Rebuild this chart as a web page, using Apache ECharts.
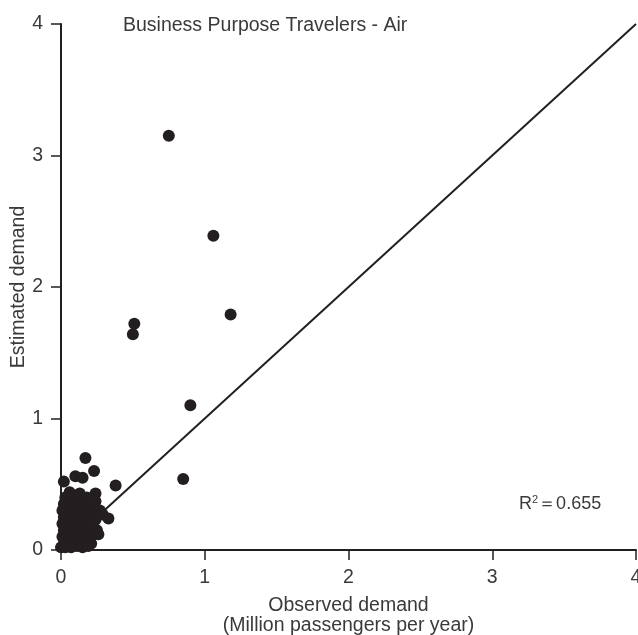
<!DOCTYPE html>
<html>
<head>
<meta charset="utf-8">
<script src="https://cdn.jsdelivr.net/npm/echarts@6/dist/echarts.min.js"></script>
<style>html,body{margin:0;padding:0;background:#fff}#c{width:638px;height:635px}</style>
</head>
<body>
<div id="c"></div>
<script>
// Observed demand (x) and estimated demand (y), million passengers per year
const observed = [
  0.75, 1.06, 1.18, 0.51, 0.50, 0.90, 0.85, 0.38, 0.17, 0.23, 0.10, 0.15, 0.02, 0.33, 0.25,
  0.06, 0.13, 0.24, 0.03, 0.09, 0.18,
  0.02, 0.06, 0.11, 0.16, 0.21, 0.24,
  0.01, 0.05, 0.09, 0.13, 0.18, 0.22, 0.27,
  0.02, 0.06, 0.10, 0.14, 0.19, 0.24, 0.29,
  0.01, 0.04, 0.08, 0.12, 0.16, 0.20,
  0.02, 0.06, 0.10, 0.14, 0.18, 0.22,
  0.01, 0.04, 0.08, 0.12, 0.16, 0.21, 0.26,
  0.02, 0.05, 0.09, 0.13, 0.17, 0.21,
  0.00, 0.03, 0.07, 0.11, 0.15, 0.19
];
const estimated = [
  3.15, 2.39, 1.79, 1.72, 1.64, 1.10, 0.54, 0.49, 0.70, 0.60, 0.56, 0.55, 0.52, 0.24, 0.15,
  0.44, 0.43, 0.43, 0.40, 0.41, 0.40,
  0.35, 0.36, 0.37, 0.35, 0.34, 0.37,
  0.30, 0.31, 0.32, 0.30, 0.31, 0.29, 0.30,
  0.25, 0.26, 0.24, 0.25, 0.26, 0.23, 0.27,
  0.20, 0.19, 0.21, 0.20, 0.19, 0.21,
  0.15, 0.14, 0.16, 0.15, 0.13, 0.16,
  0.10, 0.09, 0.11, 0.10, 0.08, 0.10, 0.12,
  0.05, 0.04, 0.06, 0.05, 0.04, 0.05,
  0.02, 0.02, 0.02, 0.03, 0.02, 0.03
];
const refLineX = [0, 4];
const refLineY = [0, 4];
const axisTicks = [0, 1, 2, 3, 4];
const titleText = 'Business Purpose Travelers - Air';
const xName = 'Observed demand\n(Million passengers per year)';
const yName = 'Estimated demand';
const r2Value = '0.655';

const ink = '#231f20';
const txt = '#3a3a3a';
const font = 'Liberation Sans';
const fs = 19.5;

const chart = echarts.init(document.getElementById('c'), null, {renderer: 'canvas'});
const axisCommon = {
  type: 'value', min: axisTicks[0], max: axisTicks[axisTicks.length - 1], interval: 1,
  splitLine: {show: false},
  axisLine: {show: true, lineStyle: {color: ink, width: 2}},
  axisTick: {show: true, inside: false, length: 10, lineStyle: {color: ink, width: 1.5}},
  axisLabel: {color: txt, fontSize: fs, fontFamily: font, margin: 18},
  nameLocation: 'middle',
  nameMoveOverlap: false,
  nameTextStyle: {color: txt, fontSize: fs, fontFamily: font, lineHeight: 20}
};
chart.setOption({
  animation: false,
  backgroundColor: '#fff',
  title: {
    text: titleText, left: 118, top: 11,
    textStyle: {color: txt, fontSize: fs, fontWeight: 'normal', fontFamily: font}
  },
  grid: {left: 61, right: 2, top: 24, bottom: 85, containLabel: false, outerBoundsMode: 'none'},
  xAxis: Object.assign({}, axisCommon, {name: xName, nameGap: 46}),
  yAxis: Object.assign({}, axisCommon, {name: yName, nameGap: 32}),
  graphic: [{
    type: 'text', left: 519, top: 494,
    style: {
      text: '{r|R}{s|2}{r|＝' + r2Value + '}',
      rich: {
        r: {fontSize: 18, fontFamily: font, fill: txt, verticalAlign: 'bottom'},
        s: {fontSize: 11, fontFamily: font, fill: txt, verticalAlign: 'top', padding: [0, 0, 8, 0]}
      }
    }
  }],
  series: [
    {
      type: 'line', data: refLineX.map((x, i) => [x, refLineY[i]]),
      symbol: 'none', lineStyle: {color: ink, width: 2}, z: 1, silent: true
    },
    {
      type: 'scatter', data: observed.map((x, i) => [x, estimated[i]]),
      symbolSize: 12, itemStyle: {color: ink, opacity: 1}, clip: false, z: 3
    }
  ]
});
</script>
</body>
</html>
